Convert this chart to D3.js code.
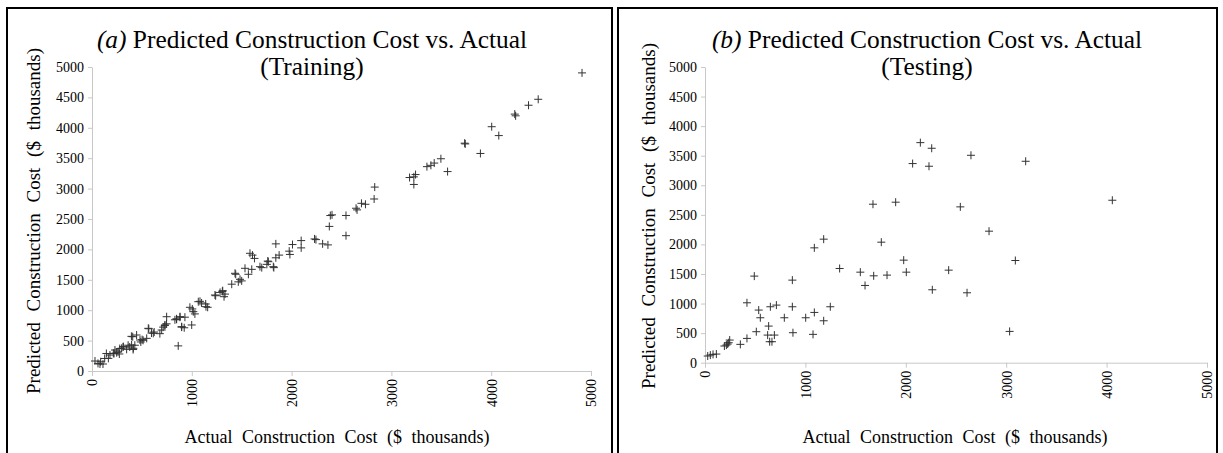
<!DOCTYPE html>
<html><head><meta charset="utf-8">
<script src="https://cdn.jsdelivr.net/npm/d3@7"></script>
<style>body{margin:0;background:#fff}svg{display:block}</style>
</head><body><svg id="c" width="1223" height="453"></svg>
<script>
const trainActual=[30,60,80,87,110,127,144,164,180,214,221,230,247,261,274,278,297,311,314,347,362,378,395,397,408,412,414,429,447,481,489,502,512,548,564,569,596,614,623,680,698,713,730,731,747,748,831,847,848,864,881,882,898,899,924,931,981,999,1005,1015,1031,1065,1082,1098,1139,1142,1159,1232,1239,1283,1306,1310,1323,1333,1400,1433,1440,1466,1483,1500,1533,1567,1583,1601,1608,1628,1683,1701,1752,1761,1767,1817,1822,1842,1842,1875,1976,1983,2009,2096,2096,2230,2244,2311,2364,2378,2388,2405,2545,2545,2646,2656,2700,2740,2827,2833,3182,3225,3225,3242,3356,3396,3429,3496,3563,3734,3740,3892,4005,4076,4236,4245,4374,4471,4910];
const trainPredicted=[164,125,115,152,115,206,288,208,263,291,288,345,301,315,280,369,373,396,400,356,424,396,570,428,564,353,373,424,592,510,478,516,505,537,702,695,624,620,641,614,674,722,749,757,776,893,842,858,850,413,885,893,722,729,711,885,1048,757,1021,976,939,1140,1146,1119,1102,1058,1048,1250,1238,1292,1309,1321,1222,1265,1428,1607,1591,1466,1508,1482,1689,1591,1936,1672,1906,1852,1716,1700,1754,1808,1798,1716,1700,1862,2091,1906,1971,1917,2080,2145,2025,2172,2161,2091,2074,2378,2557,2568,2558,2226,2677,2650,2758,2742,2829,3025,3182,3193,3068,3231,3361,3383,3420,3491,3280,3747,3735,3578,4018,3872,4225,4197,4371,4469,4903];
const testActual=[27,53,80,113,193,213,226,236,246,352,418,418,491,511,535,551,624,634,644,651,667,691,711,790,870,870,876,1003,1076,1089,1089,1182,1182,1248,1341,1547,1594,1673,1680,1756,1813,1899,1979,2005,2068,2145,2231,2258,2264,2427,2543,2610,2649,2829,3034,3091,3194,4057];
const testPredicted=[113,129,141,146,282,298,315,338,383,310,411,1013,1464,524,890,760,467,619,355,946,355,467,974,760,1396,946,507,760,479,850,1942,2089,709,946,1593,1531,1306,2680,1469,2038,1481,2714,1734,1531,3367,3721,3322,3626,1233,1565,2635,1182,3507,2224,529,1728,3406,2747];
const xTicks=[0,1000,2000,3000,4000,5000];
const yTicks=[0,500,1000,1500,2000,2500,3000,3500,4000,4500,5000];
const panelTags=["(a)","(b)"];
const titleMain=" Predicted Construction Cost vs. Actual";
const panelSubtitles=["(Training)","(Testing)"];
const xLabel="Actual Construction Cost ($ thousands)";
const yLabel="Predicted Construction Cost ($ thousands)";

const svg=d3.select("#c");
const FONT="'Liberation Serif','Times New Roman',serif";
const panels=[
  {box:[7,8,605,470],xr:[92,591],yr:[371,67],tx:312,ylx:40,ylc:221,xlc:337,xa:trainActual,ya:trainPredicted},
  {box:[618,8,599,470],xr:[705,1207],yr:[362.7,67],tx:927,ylx:655,ylc:216,xlc:955,xa:testActual,ya:testPredicted}
];
const fmt=d3.format("d");
panels.forEach((p,i)=>{
  const g=svg.append("g");
  g.append("rect").attr("x",p.box[0]).attr("y",p.box[1]).attr("width",p.box[2]).attr("height",p.box[3])
   .attr("fill","none").attr("stroke","#000").attr("stroke-width",2);
  const x=d3.scaleLinear().domain([0,5000]).range(p.xr);
  const y=d3.scaleLinear().domain([0,5000]).range(p.yr);
  const ya=g.append("g").attr("transform",`translate(${p.xr[0]},0)`)
    .call(d3.axisLeft(y).tickValues(yTicks).tickFormat(fmt).tickSize(4).tickSizeOuter(0).tickPadding(4));
  const xa=g.append("g").attr("transform",`translate(0,${p.yr[0]})`)
    .call(d3.axisBottom(x).tickValues(xTicks).tickFormat(fmt).tickSize(5).tickSizeOuter(0));
  [ya,xa].forEach(a=>{
    a.attr("font-family",FONT).attr("font-size",14);
    a.select(".domain").attr("stroke","#c8c8c8");
    a.selectAll(".tick line").attr("stroke","#c8c8c8");
    a.selectAll("text").attr("fill","#000");
  });
  xa.selectAll("text").attr("transform","rotate(-90)").attr("text-anchor","end")
    .attr("x",-8).attr("y",0).attr("dy","0.35em");
  // title
  const t=g.append("text").attr("x",p.tx).attr("y",48).attr("text-anchor","middle")
    .style("font-family",FONT).style("font-size","25.4px").attr("fill","#000");
  t.append("tspan").style("font-style","italic").text(panelTags[i]);
  t.append("tspan").text(titleMain);
  g.append("text").attr("x",p.tx).attr("y",75).attr("text-anchor","middle")
    .style("font-family",FONT).style("font-size","25.4px").attr("fill","#000").text(panelSubtitles[i]);
  // axis labels
  g.append("text").attr("x",p.xlc).attr("y",443).attr("text-anchor","middle")
    .style("font-family",FONT).style("font-size","18px").style("word-spacing","5px").attr("fill","#000").text(xLabel);
  g.append("text").attr("transform",`translate(${p.ylx},${p.ylc}) rotate(-90)`)
    .attr("text-anchor","middle").style("font-family",FONT).style("font-size","19px").style("word-spacing","6px").attr("fill","#000").text(yLabel);
  // markers
  const data=p.xa.map((v,k)=>[v,p.ya[k]]);
  const s=4;
  g.append("g").selectAll("path").data(data).join("path")
    .attr("d",d=>{const cx=x(d[0]),cy=y(d[1]);return `M${cx-s},${cy}H${cx+s}M${cx},${cy-s}V${cy+s}`;})
    .attr("stroke","#333").attr("stroke-width",1).attr("fill","none");
});
</script></body></html>
